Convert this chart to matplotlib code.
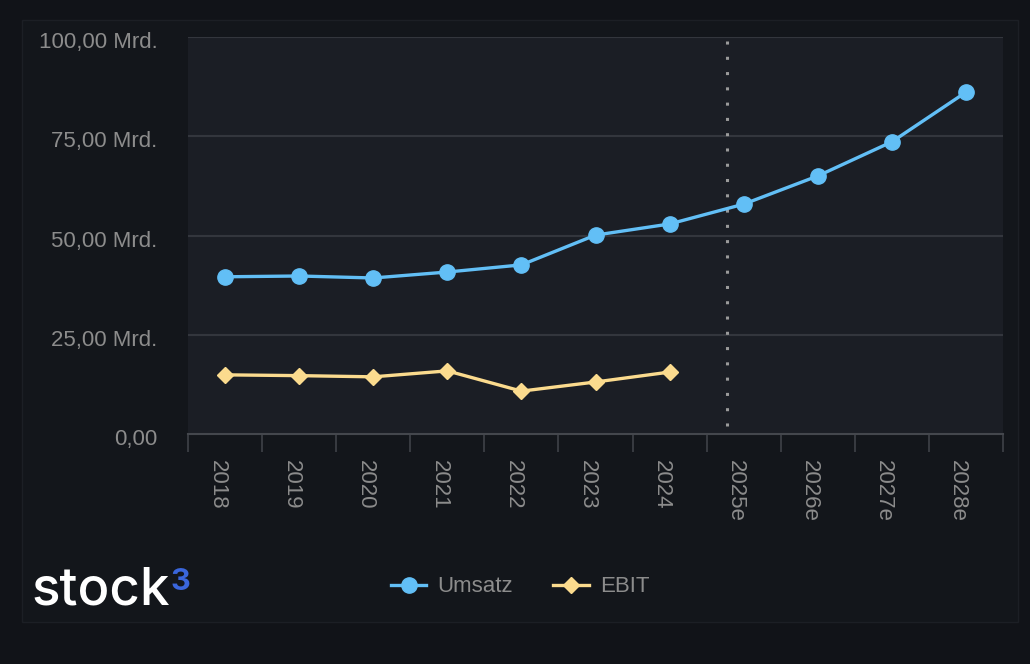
import numpy as np
import matplotlib.pyplot as plt
import matplotlib.transforms as mtransforms
from matplotlib.patches import Rectangle
from matplotlib.lines import Line2D

# data (values in Mrd.)
years = ['2018', '2019', '2020', '2021', '2022', '2023', '2024',
         '2025e', '2026e', '2027e', '2028e']
umsatz = [39.6, 39.8, 39.3, 40.8, 42.6, 50.1, 52.9, 57.9, 65.0, 73.6, 86.1]
ebit = [14.9, 14.7, 14.4, 15.9, 10.8, 13.1, 15.6]
yticks = [0, 25, 50, 75, 100]
ytick_labels = ['0,00', '25,00 Mrd.', '50,00 Mrd.', '75,00 Mrd.', '100,00 Mrd.']
today_pos = 6.77  # dotted marker between 2024 and 2025e

plt.rcParams['font.family'] = ['Liberation Sans', 'DejaVu Sans']

bg = '#111318'
card = '#13161b'
plotbg = '#1b1e25'
grid = '#33363d'
txt = '#8c8c8c'
blue = '#62bff6'
yellow = '#fbdb8e'

fig = plt.figure(figsize=(10.3, 6.64), dpi=100, facecolor=bg)
W, H = 1030, 664
fig.patches.append(Rectangle((22 / W, 1 - 622 / H), (1018 - 22) / W, (622 - 20) / H,
                             transform=fig.transFigure, facecolor=card,
                             edgecolor='#1c1f25', linewidth=1, zorder=-5))

ax = fig.add_axes([188 / W, 1 - 434 / H, (1003 - 188) / W, (434 - 37) / H], zorder=2)
ax.set_facecolor(plotbg)

x = np.arange(len(years)) + 0.5
ax.plot(x, umsatz, color=blue, lw=2.4, marker='o', ms=11, zorder=4)
ax.plot(x[:len(ebit)], ebit, color=yellow, lw=2.4, marker='D', ms=8.5, zorder=4)
ax.axvline(today_pos + 0.5, ymin=0.99, ymax=0.01, color='#9a9a9a', lw=2.2,
           linestyle=(0, (1, 4)), dash_capstyle='butt', zorder=3)

ax.set_xlim(0, len(years))
ax.set_ylim(0, 100)
ax.set_yticks(yticks)
ax.set_yticklabels(ytick_labels)
for v in yticks[1:]:
    ax.axhline(v, color=grid, lw=1.5, zorder=1)

# boundary ticks as major, labels on (slightly shifted) minor ticks
ax.set_xticks(np.arange(len(years) + 1))
ax.set_xticklabels([])
ax.set_xticks(x - 0.11, minor=True)
ax.set_xticklabels(years, minor=True, rotation=270)
ax.tick_params(axis='x', which='major', length=13, width=1.3, color='#3b3e44')
ax.tick_params(axis='x', which='minor', length=0, pad=19, labelsize=16, labelcolor=txt)
ax.tick_params(axis='y', length=0, pad=22, labelsize=16, labelcolor=txt)
down = mtransforms.ScaledTranslation(0, -3 / 100, fig.dpi_scale_trans)
for lbl in ax.yaxis.get_majorticklabels():
    lbl.set_transform(lbl.get_transform() + down)

for s in ['top', 'right', 'left']:
    ax.spines[s].set_visible(False)
ax.spines['bottom'].set_color('#44474d')
ax.spines['bottom'].set_linewidth(1.5)

handles = [Line2D([], [], color=blue, lw=2.4, marker='o', ms=11),
           Line2D([], [], color=yellow, lw=2.4, marker='D', ms=8.5)]
fig.legend(handles, ['Umsatz', 'EBIT'], loc='center', bbox_to_anchor=(520 / W, 1 - 587 / H),
           ncol=2, frameon=False, fontsize=16, labelcolor=txt, handlelength=1.6,
           columnspacing=1.8, handletextpad=0.5)

# logo
fig.text(31 / W, 1 - 591 / H, 'stock', color='white', fontsize=38, va='center',
         ha='left', family=['Inter', 'DejaVu Sans'], fontweight='medium')
fig.text(171 / W, 1 - 582 / H, '3', color='#3a66dc', fontsize=22, va='center',
         ha='left', family=['Inter', 'DejaVu Sans'], fontweight='bold')

fig.savefig('out.png', dpi=100, facecolor=bg)
